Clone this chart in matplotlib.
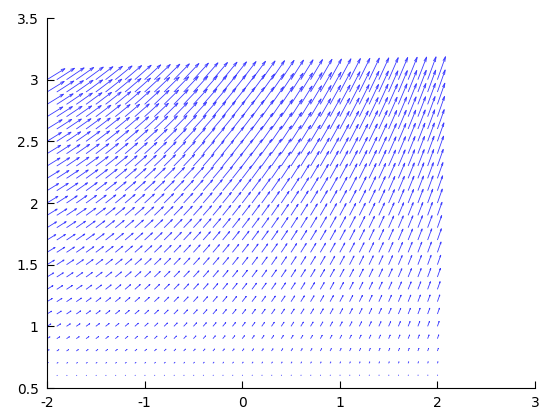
import numpy as np
import matplotlib
matplotlib.use("Agg")
import matplotlib.pyplot as plt
from matplotlib.collections import LineCollection

# grid of arrow tails
x_vals = [round(-2.0 + 0.1 * i, 1) for i in range(41)]
y_vals = [round(0.6 + 0.1 * j, 1) for j in range(25)]

# arrow direction (degrees, data units) per column
angle_deg = [26, 27, 28, 29, 30, 31, 32, 33, 34, 35,
             36, 37, 38, 39, 40, 41, 42, 43, 44, 45,
             46, 47, 48, 49, 50, 51, 52, 53, 54, 55,
             56, 57, 58, 59, 60, 61, 62, 63, 64, 65, 66]
# arrow length (data units) per row
arrow_len = [0.006, 0.014, 0.024, 0.034, 0.044, 0.052, 0.060, 0.068, 0.076, 0.084,
             0.092, 0.100, 0.108, 0.116, 0.124, 0.132, 0.140, 0.148, 0.156, 0.164,
             0.172, 0.180, 0.188, 0.196, 0.204]

fig = plt.figure(figsize=(5.6, 4.2), dpi=100)
ax = fig.add_axes([47/560, 32/420, (535-47)/560, (388-18)/420])

X, Y = np.meshgrid(x_vals, y_vals)
th = np.deg2rad(np.array(angle_deg))[None, :]
L = np.array(arrow_len)[:, None]
U = L * np.cos(th) * np.ones_like(X)
V = L * np.sin(th) * np.ones_like(X)

arrowsize = 0.2
segs = []
for x, y, u, v in zip(X.ravel(), Y.ravel(), U.ravel(), V.ravel()):
    tx, ty = x + u, y + v
    segs.append([(x, y), (tx, ty)])
    xt = x + u * (1 - arrowsize)
    yt = y + v * (1 - arrowsize)
    xa1 = xt + (y - yt) * arrowsize / 3
    ya1 = yt - (x - xt) * arrowsize / 3
    xa2 = xt - (y - yt) * arrowsize / 3
    ya2 = yt + (x - xt) * arrowsize / 3
    segs.append([(xa1, ya1), (tx, ty), (xa2, ya2)])

ax.add_collection(LineCollection(segs, colors="#3a3aff", linewidths=0.6))

ax.set_xlim(-2, 3)
ax.set_ylim(0.5, 3.5)
ax.set_xticks([-2, -1, 0, 1, 2, 3])
ax.set_yticks([0.5, 1, 1.5, 2, 2.5, 3, 3.5])
ax.set_xticklabels(["-2", "-1", "0", "1", "2", "3"])
ax.set_yticklabels(["0.5", "1", "1.5", "2", "2.5", "3", "3.5"])
ax.spines["top"].set_visible(False)
ax.spines["right"].set_visible(False)
ax.tick_params(direction="in", length=5, labelsize=10, colors="black", pad=6)
ax.tick_params(top=False, right=False)

fig.savefig("out.png", dpi=100)
